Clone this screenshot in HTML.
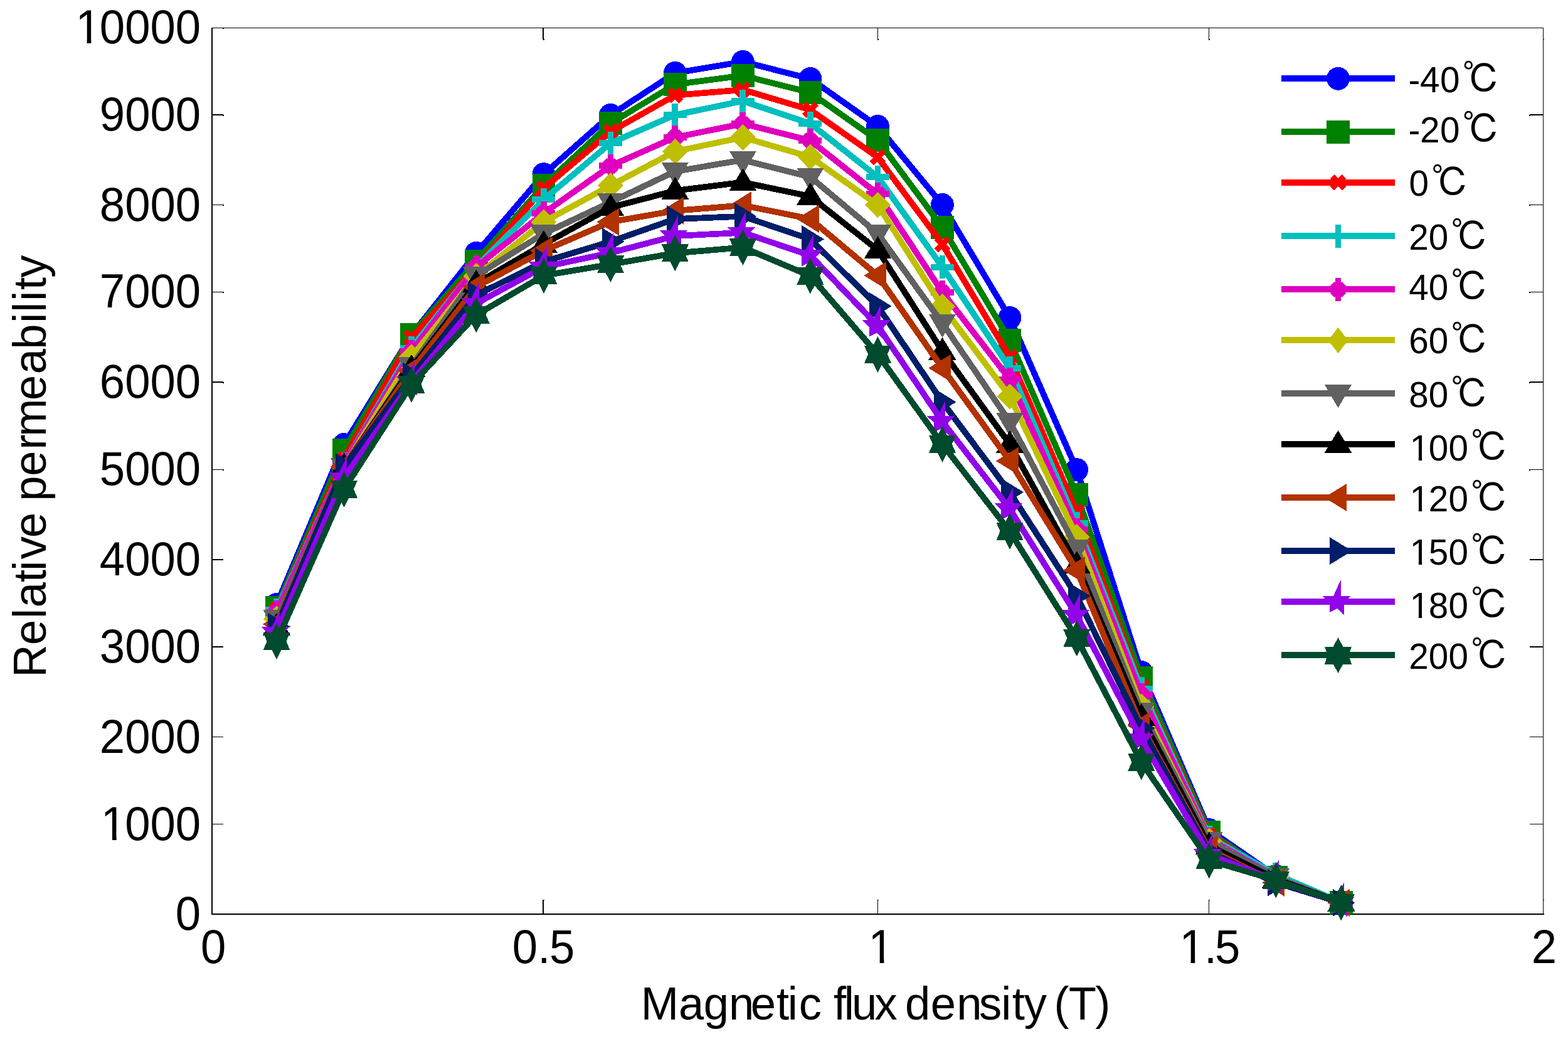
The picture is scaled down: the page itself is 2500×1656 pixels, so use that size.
<!DOCTYPE html>
<html lang="en"><head><meta charset="utf-8"><title>Relative permeability vs magnetic flux density</title>
<style>html,body{margin:0;padding:0;background:#fff}svg{display:block}text{font-family:"Liberation Sans",Arial,Helvetica,sans-serif;fill:#000;white-space:pre}.tk{font-size:72.5px}.lg{font-size:56.6px}.ax{font-size:72.5px}.cj{font-family:"IPAGothic","IPAPGothic","WenQuanYi Zen Hei","Noto Sans CJK JP","Noto Sans CJK SC","Noto Serif CJK SC",sans-serif;font-size:60px}</style></head><body>
<svg xmlns="http://www.w3.org/2000/svg" width="2500" height="1656" viewBox="0 0 2500 1656">
<rect x="0" y="0" width="2500" height="1656" fill="#fff"/>
<g fill="#000" shape-rendering="crispEdges">
<rect x="337" y="44" width="2" height="1414"/>
<rect x="337" y="1456" width="2125" height="2"/>
<rect x="337" y="44" width="2124" height="1"/>
<rect x="2460" y="44" width="1" height="1414"/>
<rect x="339" y="182" width="17" height="2"/><rect x="355" y="183" width="2" height="2"/>
<rect x="2439" y="182" width="21" height="2"/><rect x="2438" y="183" width="2" height="2"/>
<rect x="339" y="326" width="17" height="1"/><rect x="355" y="326" width="2" height="2"/>
<rect x="2439" y="326" width="21" height="1"/><rect x="2438" y="326" width="2" height="2"/>
<rect x="339" y="465" width="17" height="1"/><rect x="355" y="465" width="2" height="2"/>
<rect x="2439" y="465" width="21" height="1"/><rect x="2438" y="465" width="2" height="2"/>
<rect x="339" y="608" width="17" height="2"/><rect x="355" y="609" width="2" height="2"/>
<rect x="2439" y="608" width="21" height="2"/><rect x="2438" y="609" width="2" height="2"/>
<rect x="339" y="748" width="17" height="1"/><rect x="355" y="748" width="2" height="2"/>
<rect x="2439" y="748" width="21" height="1"/><rect x="2438" y="748" width="2" height="2"/>
<rect x="339" y="891" width="17" height="2"/>
<rect x="2439" y="891" width="21" height="2"/>
<rect x="339" y="1030" width="17" height="2"/>
<rect x="2439" y="1030" width="21" height="2"/>
<rect x="339" y="1174" width="17" height="1"/>
<rect x="2439" y="1174" width="21" height="1"/>
<rect x="339" y="1313" width="17" height="1"/>
<rect x="2439" y="1313" width="21" height="1"/>
<rect x="865" y="1434" width="2" height="22"/><rect x="866" y="1434" width="2" height="1"/>
<rect x="865" y="45" width="2" height="18"/><rect x="866" y="62" width="2" height="2"/>
<rect x="1399" y="1434" width="1" height="22"/><rect x="1399" y="1434" width="2" height="1"/>
<rect x="1399" y="45" width="1" height="18"/><rect x="1399" y="62" width="2" height="2"/>
<rect x="1927" y="1434" width="1" height="22"/><rect x="1927" y="1434" width="2" height="1"/>
<rect x="1927" y="45" width="1" height="18"/><rect x="1927" y="62" width="2" height="2"/>
<rect x="355" y="45" width="2" height="1"/><rect x="2461" y="62" width="1" height="1"/><rect x="2461" y="1434" width="1" height="1"/>
</g>
<g>
<text class="tk" transform="translate(0,69.3) scale(1,1.04)" y="0" x="120.53 158.85 199.17 239.49 279.81">10000</text>
<text class="tk" transform="translate(0,208) scale(1,1.04)" y="0" x="158.85 199.17 239.49 279.81">9000</text>
<text class="tk" transform="translate(0,351.5) scale(1,1.04)" y="0" x="158.85 199.17 239.49 279.81">8000</text>
<text class="tk" transform="translate(0,490.3) scale(1,1.04)" y="0" x="158.85 199.17 239.49 279.81">7000</text>
<text class="tk" transform="translate(0,634) scale(1,1.04)" y="0" x="158.85 199.17 239.49 279.81">6000</text>
<text class="tk" transform="translate(0,773.4) scale(1,1.04)" y="0" x="158.85 199.17 239.49 279.81">5000</text>
<text class="tk" transform="translate(0,917) scale(1,1.04)" y="0" x="158.85 199.17 239.49 279.81">4000</text>
<text class="tk" transform="translate(0,1056) scale(1,1.04)" y="0" x="158.85 199.17 239.49 279.81">3000</text>
<text class="tk" transform="translate(0,1199.5) scale(1,1.04)" y="0" x="158.85 199.17 239.49 279.81">2000</text>
<text class="tk" transform="translate(0,1338.5) scale(1,1.04)" y="0" x="160.85 199.17 239.49 279.81">1000</text>
<text class="tk" transform="translate(0,1482.4) scale(1,1.04)" y="0" x="279.81">0</text>
<text class="tk" transform="translate(0,1535.3) scale(1,1.04)" y="0" x="319.9">0</text>
<text class="tk" transform="translate(0,1535.3) scale(1,1.04)" y="0" x="816.8 857.3 876">0.5</text>
<text class="tk" transform="translate(0,1535.3) scale(1,1.04)" y="0" x="1384.6">1</text>
<text class="tk" transform="translate(0,1535.3) scale(1,1.04)" y="0" x="1880.5 1920 1937.1">1.5</text>
<text class="tk" transform="translate(0,1535.3) scale(1,1.04)" y="0" x="2441.64">2</text>
</g>
<text class="ax" transform="translate(0,1624.9) scale(1,1.015)" y="0" x="1021.85 1081.92 1121.76 1162.09 1196.72 1237.9 1255.65 1273.82 1310.07 1328.97 1345.81 1357.89 1394.43 1430.68 1442.96 1483.82 1525.29 1560.98 1596.35 1613.8 1632.82 1669.07 1680.4 1703.87 1746.28">Magnetic flux density (T)</text>
<text class="ax" transform="translate(73,0) rotate(-90) scale(1,1.015)" y="0" x="-1079.75 -1027.98 -985.89 -968.18 -928 -909.85 -891.25 -856.98 -816.66 -798.77 -758.88 -716.81 -695.81 -638.08 -596.28 -556.77 -514.85 -497.69 -479.75 -462 -442.78">Relative permeability</text>
<g shape-rendering="crispEdges">
<g><polyline fill="none" stroke="#0000ff" stroke-width="9.7" stroke-linejoin="round" points="441,963.54 548.5,708.49 656,534.13 759.3,403.43 866.9,277.67 973.5,183.42 1076.4,116.31 1184.4,98.36 1291.9,125.49 1399.5,201.37 1502.5,326.42 1610,506.44 1716.8,748.62 1819.8,1071.35 1927.8,1322.58 2034.3,1396.06 2138.4,1438.31"/>
<circle cx="441" cy="963.54" r="18.45" fill="#0000ff"/>
<circle cx="548.5" cy="708.49" r="18.45" fill="#0000ff"/>
<circle cx="656" cy="534.13" r="18.45" fill="#0000ff"/>
<circle cx="759.3" cy="403.43" r="18.45" fill="#0000ff"/>
<circle cx="866.9" cy="277.67" r="18.45" fill="#0000ff"/>
<circle cx="973.5" cy="183.42" r="18.45" fill="#0000ff"/>
<circle cx="1076.4" cy="116.31" r="18.45" fill="#0000ff"/>
<circle cx="1184.4" cy="98.36" r="18.45" fill="#0000ff"/>
<circle cx="1291.9" cy="125.49" r="18.45" fill="#0000ff"/>
<circle cx="1399.5" cy="201.37" r="18.45" fill="#0000ff"/>
<circle cx="1502.5" cy="326.42" r="18.45" fill="#0000ff"/>
<circle cx="1610" cy="506.44" r="18.45" fill="#0000ff"/>
<circle cx="1716.8" cy="748.62" r="18.45" fill="#0000ff"/>
<circle cx="1819.8" cy="1071.35" r="18.45" fill="#0000ff"/>
<circle cx="1927.8" cy="1322.58" r="18.45" fill="#0000ff"/>
<circle cx="2034.3" cy="1396.06" r="18.45" fill="#0000ff"/>
<circle cx="2138.4" cy="1438.31" r="18.45" fill="#0000ff"/>
</g>
<g><polyline fill="none" stroke="#008000" stroke-width="9.7" stroke-linejoin="round" points="441,968.49 548.5,717.4 656,533.42 759.3,416.29 866.9,295.47 973.5,196.56 1076.4,134.53 1184.4,120.4 1291.9,147.67 1399.5,223.55 1502.5,362.45 1610,542.33 1716.8,788.47 1819.8,1080.54 1927.8,1326.54 2034.3,1398.46 2138.4,1438.73"/>
<rect x="422.6" y="950.09" width="36.8" height="36.8" fill="#008000"/>
<rect x="530.1" y="699" width="36.8" height="36.8" fill="#008000"/>
<rect x="637.6" y="515.02" width="36.8" height="36.8" fill="#008000"/>
<rect x="740.9" y="397.89" width="36.8" height="36.8" fill="#008000"/>
<rect x="848.5" y="277.07" width="36.8" height="36.8" fill="#008000"/>
<rect x="955.1" y="178.16" width="36.8" height="36.8" fill="#008000"/>
<rect x="1058" y="116.13" width="36.8" height="36.8" fill="#008000"/>
<rect x="1166" y="102" width="36.8" height="36.8" fill="#008000"/>
<rect x="1273.5" y="129.27" width="36.8" height="36.8" fill="#008000"/>
<rect x="1381.1" y="205.15" width="36.8" height="36.8" fill="#008000"/>
<rect x="1484.1" y="344.05" width="36.8" height="36.8" fill="#008000"/>
<rect x="1591.6" y="523.93" width="36.8" height="36.8" fill="#008000"/>
<rect x="1698.4" y="770.07" width="36.8" height="36.8" fill="#008000"/>
<rect x="1801.4" y="1062.14" width="36.8" height="36.8" fill="#008000"/>
<rect x="1909.4" y="1308.14" width="36.8" height="36.8" fill="#008000"/>
<rect x="2015.9" y="1380.06" width="36.8" height="36.8" fill="#008000"/>
<rect x="2120" y="1420.33" width="36.8" height="36.8" fill="#008000"/>
</g>
<g><polyline fill="none" stroke="#ff0000" stroke-width="9.7" stroke-linejoin="round" points="441,972.44 548.5,731.24 656,537.95 759.3,425.47 866.9,300.14 973.5,209.85 1076.4,151.91 1184.4,143.01 1291.9,175.09 1399.5,250.68 1502.5,389.44 1610,568.75 1716.8,815.88 1819.8,1093.82 1927.8,1331.06 2034.3,1397.47 2138.4,1438.73"/>
<path transform="translate(441,972.44)" d="M-9.6,-9.6L9.6,9.6M-9.6,9.6L9.6,-9.6" stroke="#ff0000" stroke-width="9.3" fill="none"/>
<path transform="translate(548.5,731.24)" d="M-9.6,-9.6L9.6,9.6M-9.6,9.6L9.6,-9.6" stroke="#ff0000" stroke-width="9.3" fill="none"/>
<path transform="translate(656,537.95)" d="M-9.6,-9.6L9.6,9.6M-9.6,9.6L9.6,-9.6" stroke="#ff0000" stroke-width="9.3" fill="none"/>
<path transform="translate(759.3,425.47)" d="M-9.6,-9.6L9.6,9.6M-9.6,9.6L9.6,-9.6" stroke="#ff0000" stroke-width="9.3" fill="none"/>
<path transform="translate(866.9,300.14)" d="M-9.6,-9.6L9.6,9.6M-9.6,9.6L9.6,-9.6" stroke="#ff0000" stroke-width="9.3" fill="none"/>
<path transform="translate(973.5,209.85)" d="M-9.6,-9.6L9.6,9.6M-9.6,9.6L9.6,-9.6" stroke="#ff0000" stroke-width="9.3" fill="none"/>
<path transform="translate(1076.4,151.91)" d="M-9.6,-9.6L9.6,9.6M-9.6,9.6L9.6,-9.6" stroke="#ff0000" stroke-width="9.3" fill="none"/>
<path transform="translate(1184.4,143.01)" d="M-9.6,-9.6L9.6,9.6M-9.6,9.6L9.6,-9.6" stroke="#ff0000" stroke-width="9.3" fill="none"/>
<path transform="translate(1291.9,175.09)" d="M-9.6,-9.6L9.6,9.6M-9.6,9.6L9.6,-9.6" stroke="#ff0000" stroke-width="9.3" fill="none"/>
<path transform="translate(1399.5,250.68)" d="M-9.6,-9.6L9.6,9.6M-9.6,9.6L9.6,-9.6" stroke="#ff0000" stroke-width="9.3" fill="none"/>
<path transform="translate(1502.5,389.44)" d="M-9.6,-9.6L9.6,9.6M-9.6,9.6L9.6,-9.6" stroke="#ff0000" stroke-width="9.3" fill="none"/>
<path transform="translate(1610,568.75)" d="M-9.6,-9.6L9.6,9.6M-9.6,9.6L9.6,-9.6" stroke="#ff0000" stroke-width="9.3" fill="none"/>
<path transform="translate(1716.8,815.88)" d="M-9.6,-9.6L9.6,9.6M-9.6,9.6L9.6,-9.6" stroke="#ff0000" stroke-width="9.3" fill="none"/>
<path transform="translate(1819.8,1093.82)" d="M-9.6,-9.6L9.6,9.6M-9.6,9.6L9.6,-9.6" stroke="#ff0000" stroke-width="9.3" fill="none"/>
<path transform="translate(1927.8,1331.06)" d="M-9.6,-9.6L9.6,9.6M-9.6,9.6L9.6,-9.6" stroke="#ff0000" stroke-width="9.3" fill="none"/>
<path transform="translate(2034.3,1397.47)" d="M-9.6,-9.6L9.6,9.6M-9.6,9.6L9.6,-9.6" stroke="#ff0000" stroke-width="9.3" fill="none"/>
<path transform="translate(2138.4,1438.73)" d="M-9.6,-9.6L9.6,9.6M-9.6,9.6L9.6,-9.6" stroke="#ff0000" stroke-width="9.3" fill="none"/>
</g>
<g><polyline fill="none" stroke="#00bfbf" stroke-width="9.7" stroke-linejoin="round" points="441,972.02 548.5,739.58 656,554.62 759.3,425.47 866.9,318.08 973.5,228.07 1076.4,183.14 1184.4,161.1 1291.9,196.85 1399.5,282.05 1502.5,425.61 1610,586.84 1716.8,834.25 1819.8,1097.63 1927.8,1334.31 2034.3,1393.66 2138.4,1438.31"/>
<path transform="translate(441,972.02)" d="M0,-18.45L0,18.45M-18.45,0L18.45,0" stroke="#00bfbf" stroke-width="9.9" fill="none"/>
<path transform="translate(548.5,739.58)" d="M0,-18.45L0,18.45M-18.45,0L18.45,0" stroke="#00bfbf" stroke-width="9.9" fill="none"/>
<path transform="translate(656,554.62)" d="M0,-18.45L0,18.45M-18.45,0L18.45,0" stroke="#00bfbf" stroke-width="9.9" fill="none"/>
<path transform="translate(759.3,425.47)" d="M0,-18.45L0,18.45M-18.45,0L18.45,0" stroke="#00bfbf" stroke-width="9.9" fill="none"/>
<path transform="translate(866.9,318.08)" d="M0,-18.45L0,18.45M-18.45,0L18.45,0" stroke="#00bfbf" stroke-width="9.9" fill="none"/>
<path transform="translate(973.5,228.07)" d="M0,-18.45L0,18.45M-18.45,0L18.45,0" stroke="#00bfbf" stroke-width="9.9" fill="none"/>
<path transform="translate(1076.4,183.14)" d="M0,-18.45L0,18.45M-18.45,0L18.45,0" stroke="#00bfbf" stroke-width="9.9" fill="none"/>
<path transform="translate(1184.4,161.1)" d="M0,-18.45L0,18.45M-18.45,0L18.45,0" stroke="#00bfbf" stroke-width="9.9" fill="none"/>
<path transform="translate(1291.9,196.85)" d="M0,-18.45L0,18.45M-18.45,0L18.45,0" stroke="#00bfbf" stroke-width="9.9" fill="none"/>
<path transform="translate(1399.5,282.05)" d="M0,-18.45L0,18.45M-18.45,0L18.45,0" stroke="#00bfbf" stroke-width="9.9" fill="none"/>
<path transform="translate(1502.5,425.61)" d="M0,-18.45L0,18.45M-18.45,0L18.45,0" stroke="#00bfbf" stroke-width="9.9" fill="none"/>
<path transform="translate(1610,586.84)" d="M0,-18.45L0,18.45M-18.45,0L18.45,0" stroke="#00bfbf" stroke-width="9.9" fill="none"/>
<path transform="translate(1716.8,834.25)" d="M0,-18.45L0,18.45M-18.45,0L18.45,0" stroke="#00bfbf" stroke-width="9.9" fill="none"/>
<path transform="translate(1819.8,1097.63)" d="M0,-18.45L0,18.45M-18.45,0L18.45,0" stroke="#00bfbf" stroke-width="9.9" fill="none"/>
<path transform="translate(1927.8,1334.31)" d="M0,-18.45L0,18.45M-18.45,0L18.45,0" stroke="#00bfbf" stroke-width="9.9" fill="none"/>
<path transform="translate(2034.3,1393.66)" d="M0,-18.45L0,18.45M-18.45,0L18.45,0" stroke="#00bfbf" stroke-width="9.9" fill="none"/>
<path transform="translate(2138.4,1438.31)" d="M0,-18.45L0,18.45M-18.45,0L18.45,0" stroke="#00bfbf" stroke-width="9.9" fill="none"/>
</g>
<g><polyline fill="none" stroke="#df00bf" stroke-width="9.7" stroke-linejoin="round" points="441,975.69 548.5,740.43 656,560.41 759.3,425.47 866.9,339.84 973.5,264.39 1076.4,218.89 1184.4,197.27 1291.9,223.84 1399.5,309.18 1502.5,465.6 1610,604.5 1716.8,844.14 1819.8,1107.1 1927.8,1337.14 2034.3,1397.9 2138.4,1438.73"/>
<path transform="translate(441,975.69)" d="M0,-18.45L0,18.45M-18.45,0L18.45,0" stroke="#df00bf" stroke-width="9.9" fill="none"/><path transform="translate(441,975.69)" d="M-9.4,-9.4L9.4,9.4M-9.4,9.4L9.4,-9.4" stroke="#df00bf" stroke-width="9.3" fill="none"/>
<path transform="translate(548.5,740.43)" d="M0,-18.45L0,18.45M-18.45,0L18.45,0" stroke="#df00bf" stroke-width="9.9" fill="none"/><path transform="translate(548.5,740.43)" d="M-9.4,-9.4L9.4,9.4M-9.4,9.4L9.4,-9.4" stroke="#df00bf" stroke-width="9.3" fill="none"/>
<path transform="translate(656,560.41)" d="M0,-18.45L0,18.45M-18.45,0L18.45,0" stroke="#df00bf" stroke-width="9.9" fill="none"/><path transform="translate(656,560.41)" d="M-9.4,-9.4L9.4,9.4M-9.4,9.4L9.4,-9.4" stroke="#df00bf" stroke-width="9.3" fill="none"/>
<path transform="translate(759.3,425.47)" d="M0,-18.45L0,18.45M-18.45,0L18.45,0" stroke="#df00bf" stroke-width="9.9" fill="none"/><path transform="translate(759.3,425.47)" d="M-9.4,-9.4L9.4,9.4M-9.4,9.4L9.4,-9.4" stroke="#df00bf" stroke-width="9.3" fill="none"/>
<path transform="translate(866.9,339.84)" d="M0,-18.45L0,18.45M-18.45,0L18.45,0" stroke="#df00bf" stroke-width="9.9" fill="none"/><path transform="translate(866.9,339.84)" d="M-9.4,-9.4L9.4,9.4M-9.4,9.4L9.4,-9.4" stroke="#df00bf" stroke-width="9.3" fill="none"/>
<path transform="translate(973.5,264.39)" d="M0,-18.45L0,18.45M-18.45,0L18.45,0" stroke="#df00bf" stroke-width="9.9" fill="none"/><path transform="translate(973.5,264.39)" d="M-9.4,-9.4L9.4,9.4M-9.4,9.4L9.4,-9.4" stroke="#df00bf" stroke-width="9.3" fill="none"/>
<path transform="translate(1076.4,218.89)" d="M0,-18.45L0,18.45M-18.45,0L18.45,0" stroke="#df00bf" stroke-width="9.9" fill="none"/><path transform="translate(1076.4,218.89)" d="M-9.4,-9.4L9.4,9.4M-9.4,9.4L9.4,-9.4" stroke="#df00bf" stroke-width="9.3" fill="none"/>
<path transform="translate(1184.4,197.27)" d="M0,-18.45L0,18.45M-18.45,0L18.45,0" stroke="#df00bf" stroke-width="9.9" fill="none"/><path transform="translate(1184.4,197.27)" d="M-9.4,-9.4L9.4,9.4M-9.4,9.4L9.4,-9.4" stroke="#df00bf" stroke-width="9.3" fill="none"/>
<path transform="translate(1291.9,223.84)" d="M0,-18.45L0,18.45M-18.45,0L18.45,0" stroke="#df00bf" stroke-width="9.9" fill="none"/><path transform="translate(1291.9,223.84)" d="M-9.4,-9.4L9.4,9.4M-9.4,9.4L9.4,-9.4" stroke="#df00bf" stroke-width="9.3" fill="none"/>
<path transform="translate(1399.5,309.18)" d="M0,-18.45L0,18.45M-18.45,0L18.45,0" stroke="#df00bf" stroke-width="9.9" fill="none"/><path transform="translate(1399.5,309.18)" d="M-9.4,-9.4L9.4,9.4M-9.4,9.4L9.4,-9.4" stroke="#df00bf" stroke-width="9.3" fill="none"/>
<path transform="translate(1502.5,465.6)" d="M0,-18.45L0,18.45M-18.45,0L18.45,0" stroke="#df00bf" stroke-width="9.9" fill="none"/><path transform="translate(1502.5,465.6)" d="M-9.4,-9.4L9.4,9.4M-9.4,9.4L9.4,-9.4" stroke="#df00bf" stroke-width="9.3" fill="none"/>
<path transform="translate(1610,604.5)" d="M0,-18.45L0,18.45M-18.45,0L18.45,0" stroke="#df00bf" stroke-width="9.9" fill="none"/><path transform="translate(1610,604.5)" d="M-9.4,-9.4L9.4,9.4M-9.4,9.4L9.4,-9.4" stroke="#df00bf" stroke-width="9.3" fill="none"/>
<path transform="translate(1716.8,844.14)" d="M0,-18.45L0,18.45M-18.45,0L18.45,0" stroke="#df00bf" stroke-width="9.9" fill="none"/><path transform="translate(1716.8,844.14)" d="M-9.4,-9.4L9.4,9.4M-9.4,9.4L9.4,-9.4" stroke="#df00bf" stroke-width="9.3" fill="none"/>
<path transform="translate(1819.8,1107.1)" d="M0,-18.45L0,18.45M-18.45,0L18.45,0" stroke="#df00bf" stroke-width="9.9" fill="none"/><path transform="translate(1819.8,1107.1)" d="M-9.4,-9.4L9.4,9.4M-9.4,9.4L9.4,-9.4" stroke="#df00bf" stroke-width="9.3" fill="none"/>
<path transform="translate(1927.8,1337.14)" d="M0,-18.45L0,18.45M-18.45,0L18.45,0" stroke="#df00bf" stroke-width="9.9" fill="none"/><path transform="translate(1927.8,1337.14)" d="M-9.4,-9.4L9.4,9.4M-9.4,9.4L9.4,-9.4" stroke="#df00bf" stroke-width="9.3" fill="none"/>
<path transform="translate(2034.3,1397.9)" d="M0,-18.45L0,18.45M-18.45,0L18.45,0" stroke="#df00bf" stroke-width="9.9" fill="none"/><path transform="translate(2034.3,1397.9)" d="M-9.4,-9.4L9.4,9.4M-9.4,9.4L9.4,-9.4" stroke="#df00bf" stroke-width="9.3" fill="none"/>
<path transform="translate(2138.4,1438.73)" d="M0,-18.45L0,18.45M-18.45,0L18.45,0" stroke="#df00bf" stroke-width="9.9" fill="none"/><path transform="translate(2138.4,1438.73)" d="M-9.4,-9.4L9.4,9.4M-9.4,9.4L9.4,-9.4" stroke="#df00bf" stroke-width="9.3" fill="none"/>
</g>
<g><polyline fill="none" stroke="#bfbf00" stroke-width="9.7" stroke-linejoin="round" points="441,986.43 548.5,744.1 656,569.46 759.3,439.74 866.9,353.83 973.5,295.62 1076.4,241.36 1184.4,218.89 1291.9,250.12 1399.5,326.7 1502.5,488.49 1610,631.63 1716.8,855.59 1819.8,1126.04 1927.8,1340.25 2034.3,1398.75 2138.4,1438.73"/>
<polygon transform="translate(441,986.43)" points="0,-20.6 20.6,0.1 0,20.8 -20.6,0.1" fill="#bfbf00"/>
<polygon transform="translate(548.5,744.1)" points="0,-20.6 20.6,0.1 0,20.8 -20.6,0.1" fill="#bfbf00"/>
<polygon transform="translate(656,569.46)" points="0,-20.6 20.6,0.1 0,20.8 -20.6,0.1" fill="#bfbf00"/>
<polygon transform="translate(759.3,439.74)" points="0,-20.6 20.6,0.1 0,20.8 -20.6,0.1" fill="#bfbf00"/>
<polygon transform="translate(866.9,353.83)" points="0,-20.6 20.6,0.1 0,20.8 -20.6,0.1" fill="#bfbf00"/>
<polygon transform="translate(973.5,295.62)" points="0,-20.6 20.6,0.1 0,20.8 -20.6,0.1" fill="#bfbf00"/>
<polygon transform="translate(1076.4,241.36)" points="0,-20.6 20.6,0.1 0,20.8 -20.6,0.1" fill="#bfbf00"/>
<polygon transform="translate(1184.4,218.89)" points="0,-20.6 20.6,0.1 0,20.8 -20.6,0.1" fill="#bfbf00"/>
<polygon transform="translate(1291.9,250.12)" points="0,-20.6 20.6,0.1 0,20.8 -20.6,0.1" fill="#bfbf00"/>
<polygon transform="translate(1399.5,326.7)" points="0,-20.6 20.6,0.1 0,20.8 -20.6,0.1" fill="#bfbf00"/>
<polygon transform="translate(1502.5,488.49)" points="0,-20.6 20.6,0.1 0,20.8 -20.6,0.1" fill="#bfbf00"/>
<polygon transform="translate(1610,631.63)" points="0,-20.6 20.6,0.1 0,20.8 -20.6,0.1" fill="#bfbf00"/>
<polygon transform="translate(1716.8,855.59)" points="0,-20.6 20.6,0.1 0,20.8 -20.6,0.1" fill="#bfbf00"/>
<polygon transform="translate(1819.8,1126.04)" points="0,-20.6 20.6,0.1 0,20.8 -20.6,0.1" fill="#bfbf00"/>
<polygon transform="translate(1927.8,1340.25)" points="0,-20.6 20.6,0.1 0,20.8 -20.6,0.1" fill="#bfbf00"/>
<polygon transform="translate(2034.3,1398.75)" points="0,-20.6 20.6,0.1 0,20.8 -20.6,0.1" fill="#bfbf00"/>
<polygon transform="translate(2138.4,1438.73)" points="0,-20.6 20.6,0.1 0,20.8 -20.6,0.1" fill="#bfbf00"/>
</g>
<g><polyline fill="none" stroke="#616161" stroke-width="9.7" stroke-linejoin="round" points="441,986.15 548.5,744.1 656,583.59 759.3,439.32 866.9,372.34 973.5,322.18 1076.4,273.15 1184.4,255.06 1291.9,281.91 1399.5,372.34 1502.5,515.05 1610,672.32 1716.8,874.1 1819.8,1134.37 1927.8,1340.53 2034.3,1398.46 2138.4,1438.73"/>
<polygon transform="translate(441,986.15)" points="-21.5,-14.1 21.5,-14.1 0,23.1" fill="#616161"/>
<polygon transform="translate(548.5,744.1)" points="-21.5,-14.1 21.5,-14.1 0,23.1" fill="#616161"/>
<polygon transform="translate(656,583.59)" points="-21.5,-14.1 21.5,-14.1 0,23.1" fill="#616161"/>
<polygon transform="translate(759.3,439.32)" points="-21.5,-14.1 21.5,-14.1 0,23.1" fill="#616161"/>
<polygon transform="translate(866.9,372.34)" points="-21.5,-14.1 21.5,-14.1 0,23.1" fill="#616161"/>
<polygon transform="translate(973.5,322.18)" points="-21.5,-14.1 21.5,-14.1 0,23.1" fill="#616161"/>
<polygon transform="translate(1076.4,273.15)" points="-21.5,-14.1 21.5,-14.1 0,23.1" fill="#616161"/>
<polygon transform="translate(1184.4,255.06)" points="-21.5,-14.1 21.5,-14.1 0,23.1" fill="#616161"/>
<polygon transform="translate(1291.9,281.91)" points="-21.5,-14.1 21.5,-14.1 0,23.1" fill="#616161"/>
<polygon transform="translate(1399.5,372.34)" points="-21.5,-14.1 21.5,-14.1 0,23.1" fill="#616161"/>
<polygon transform="translate(1502.5,515.05)" points="-21.5,-14.1 21.5,-14.1 0,23.1" fill="#616161"/>
<polygon transform="translate(1610,672.32)" points="-21.5,-14.1 21.5,-14.1 0,23.1" fill="#616161"/>
<polygon transform="translate(1716.8,874.1)" points="-21.5,-14.1 21.5,-14.1 0,23.1" fill="#616161"/>
<polygon transform="translate(1819.8,1134.37)" points="-21.5,-14.1 21.5,-14.1 0,23.1" fill="#616161"/>
<polygon transform="translate(1927.8,1340.53)" points="-21.5,-14.1 21.5,-14.1 0,23.1" fill="#616161"/>
<polygon transform="translate(2034.3,1398.46)" points="-21.5,-14.1 21.5,-14.1 0,23.1" fill="#616161"/>
<polygon transform="translate(2138.4,1438.73)" points="-21.5,-14.1 21.5,-14.1 0,23.1" fill="#616161"/>
</g>
<g><polyline fill="none" stroke="#000000" stroke-width="9.7" stroke-linejoin="round" points="441,999.01 548.5,743.54 656,586.98 759.3,451.89 866.9,389.3 973.5,330.66 1076.4,303.95 1184.4,290.53 1291.9,313 1399.5,398.48 1502.5,559.71 1610,708.07 1716.8,900.38 1819.8,1142.99 1927.8,1348.02 2034.3,1401.01 2138.4,1438.73"/>
<polygon transform="translate(441,999.01)" points="0,-22.1 22,13.8 -22,13.8" fill="#000000"/>
<polygon transform="translate(548.5,743.54)" points="0,-22.1 22,13.8 -22,13.8" fill="#000000"/>
<polygon transform="translate(656,586.98)" points="0,-22.1 22,13.8 -22,13.8" fill="#000000"/>
<polygon transform="translate(759.3,451.89)" points="0,-22.1 22,13.8 -22,13.8" fill="#000000"/>
<polygon transform="translate(866.9,389.3)" points="0,-22.1 22,13.8 -22,13.8" fill="#000000"/>
<polygon transform="translate(973.5,330.66)" points="0,-22.1 22,13.8 -22,13.8" fill="#000000"/>
<polygon transform="translate(1076.4,303.95)" points="0,-22.1 22,13.8 -22,13.8" fill="#000000"/>
<polygon transform="translate(1184.4,290.53)" points="0,-22.1 22,13.8 -22,13.8" fill="#000000"/>
<polygon transform="translate(1291.9,313)" points="0,-22.1 22,13.8 -22,13.8" fill="#000000"/>
<polygon transform="translate(1399.5,398.48)" points="0,-22.1 22,13.8 -22,13.8" fill="#000000"/>
<polygon transform="translate(1502.5,559.71)" points="0,-22.1 22,13.8 -22,13.8" fill="#000000"/>
<polygon transform="translate(1610,708.07)" points="0,-22.1 22,13.8 -22,13.8" fill="#000000"/>
<polygon transform="translate(1716.8,900.38)" points="0,-22.1 22,13.8 -22,13.8" fill="#000000"/>
<polygon transform="translate(1819.8,1142.99)" points="0,-22.1 22,13.8 -22,13.8" fill="#000000"/>
<polygon transform="translate(1927.8,1348.02)" points="0,-22.1 22,13.8 -22,13.8" fill="#000000"/>
<polygon transform="translate(2034.3,1401.01)" points="0,-22.1 22,13.8 -22,13.8" fill="#000000"/>
<polygon transform="translate(2138.4,1438.73)" points="0,-22.1 22,13.8 -22,13.8" fill="#000000"/>
</g>
<g><polyline fill="none" stroke="#b23200" stroke-width="9.7" stroke-linejoin="round" points="441,994.77 548.5,743.82 656,590.79 759.3,457.12 866.9,399.61 973.5,353.69 1076.4,335.89 1184.4,327.27 1291.9,348.89 1399.5,439.18 1502.5,586.69 1610,734.78 1716.8,908.86 1819.8,1156.84 1927.8,1353.81 2034.3,1406.8 2138.4,1438.87"/>
<polygon transform="translate(441,994.77)" points="-22.1,0 13.6,-22 13.6,22" fill="#b23200"/>
<polygon transform="translate(548.5,743.82)" points="-22.1,0 13.6,-22 13.6,22" fill="#b23200"/>
<polygon transform="translate(656,590.79)" points="-22.1,0 13.6,-22 13.6,22" fill="#b23200"/>
<polygon transform="translate(759.3,457.12)" points="-22.1,0 13.6,-22 13.6,22" fill="#b23200"/>
<polygon transform="translate(866.9,399.61)" points="-22.1,0 13.6,-22 13.6,22" fill="#b23200"/>
<polygon transform="translate(973.5,353.69)" points="-22.1,0 13.6,-22 13.6,22" fill="#b23200"/>
<polygon transform="translate(1076.4,335.89)" points="-22.1,0 13.6,-22 13.6,22" fill="#b23200"/>
<polygon transform="translate(1184.4,327.27)" points="-22.1,0 13.6,-22 13.6,22" fill="#b23200"/>
<polygon transform="translate(1291.9,348.89)" points="-22.1,0 13.6,-22 13.6,22" fill="#b23200"/>
<polygon transform="translate(1399.5,439.18)" points="-22.1,0 13.6,-22 13.6,22" fill="#b23200"/>
<polygon transform="translate(1502.5,586.69)" points="-22.1,0 13.6,-22 13.6,22" fill="#b23200"/>
<polygon transform="translate(1610,734.78)" points="-22.1,0 13.6,-22 13.6,22" fill="#b23200"/>
<polygon transform="translate(1716.8,908.86)" points="-22.1,0 13.6,-22 13.6,22" fill="#b23200"/>
<polygon transform="translate(1819.8,1156.84)" points="-22.1,0 13.6,-22 13.6,22" fill="#b23200"/>
<polygon transform="translate(1927.8,1353.81)" points="-22.1,0 13.6,-22 13.6,22" fill="#b23200"/>
<polygon transform="translate(2034.3,1406.8)" points="-22.1,0 13.6,-22 13.6,22" fill="#b23200"/>
<polygon transform="translate(2138.4,1438.87)" points="-22.1,0 13.6,-22 13.6,22" fill="#b23200"/>
</g>
<g><polyline fill="none" stroke="#001e69" stroke-width="9.7" stroke-linejoin="round" points="441,998.87 548.5,743.96 656,599.84 759.3,470.4 866.9,417.13 973.5,385.06 1076.4,349.03 1184.4,344.79 1291.9,381.24 1399.5,487.93 1502.5,640.67 1610,784.51 1716.8,949.84 1819.8,1160.65 1927.8,1357.91 2034.3,1406.8 2138.4,1438.87"/>
<polygon transform="translate(441,998.87)" points="22.1,0 -13.6,-22 -13.6,22" fill="#001e69"/>
<polygon transform="translate(548.5,743.96)" points="22.1,0 -13.6,-22 -13.6,22" fill="#001e69"/>
<polygon transform="translate(656,599.84)" points="22.1,0 -13.6,-22 -13.6,22" fill="#001e69"/>
<polygon transform="translate(759.3,470.4)" points="22.1,0 -13.6,-22 -13.6,22" fill="#001e69"/>
<polygon transform="translate(866.9,417.13)" points="22.1,0 -13.6,-22 -13.6,22" fill="#001e69"/>
<polygon transform="translate(973.5,385.06)" points="22.1,0 -13.6,-22 -13.6,22" fill="#001e69"/>
<polygon transform="translate(1076.4,349.03)" points="22.1,0 -13.6,-22 -13.6,22" fill="#001e69"/>
<polygon transform="translate(1184.4,344.79)" points="22.1,0 -13.6,-22 -13.6,22" fill="#001e69"/>
<polygon transform="translate(1291.9,381.24)" points="22.1,0 -13.6,-22 -13.6,22" fill="#001e69"/>
<polygon transform="translate(1399.5,487.93)" points="22.1,0 -13.6,-22 -13.6,22" fill="#001e69"/>
<polygon transform="translate(1502.5,640.67)" points="22.1,0 -13.6,-22 -13.6,22" fill="#001e69"/>
<polygon transform="translate(1610,784.51)" points="22.1,0 -13.6,-22 -13.6,22" fill="#001e69"/>
<polygon transform="translate(1716.8,949.84)" points="22.1,0 -13.6,-22 -13.6,22" fill="#001e69"/>
<polygon transform="translate(1819.8,1160.65)" points="22.1,0 -13.6,-22 -13.6,22" fill="#001e69"/>
<polygon transform="translate(1927.8,1357.91)" points="22.1,0 -13.6,-22 -13.6,22" fill="#001e69"/>
<polygon transform="translate(2034.3,1406.8)" points="22.1,0 -13.6,-22 -13.6,22" fill="#001e69"/>
<polygon transform="translate(2138.4,1438.87)" points="22.1,0 -13.6,-22 -13.6,22" fill="#001e69"/>
</g>
<g><polyline fill="none" stroke="#9105e8" stroke-width="9.7" stroke-linejoin="round" points="441,1007.77 548.5,761.34 656,608.88 759.3,483.69 866.9,425.47 973.5,403 1076.4,376.02 1184.4,370.79 1291.9,407.1 1399.5,519.29 1502.5,671.9 1610,811.22 1716.8,980.78 1819.8,1178.18 1927.8,1362.29 2034.3,1403.27 2138.4,1439.16"/>
<polygon transform="translate(441,1007.77)" points="4.93,-34.2 4.93,-8.83 20.36,-8.83 9.44,1.9 9.13,21.5 -1.28,11.07 -13.52,16.99 -13.52,1.9 -24.54,-8.83 -7.6,-8.83" fill="#9105e8"/>
<polygon transform="translate(548.5,761.34)" points="4.93,-34.2 4.93,-8.83 20.36,-8.83 9.44,1.9 9.13,21.5 -1.28,11.07 -13.52,16.99 -13.52,1.9 -24.54,-8.83 -7.6,-8.83" fill="#9105e8"/>
<polygon transform="translate(656,608.88)" points="4.93,-34.2 4.93,-8.83 20.36,-8.83 9.44,1.9 9.13,21.5 -1.28,11.07 -13.52,16.99 -13.52,1.9 -24.54,-8.83 -7.6,-8.83" fill="#9105e8"/>
<polygon transform="translate(759.3,483.69)" points="4.93,-34.2 4.93,-8.83 20.36,-8.83 9.44,1.9 9.13,21.5 -1.28,11.07 -13.52,16.99 -13.52,1.9 -24.54,-8.83 -7.6,-8.83" fill="#9105e8"/>
<polygon transform="translate(866.9,425.47)" points="4.93,-34.2 4.93,-8.83 20.36,-8.83 9.44,1.9 9.13,21.5 -1.28,11.07 -13.52,16.99 -13.52,1.9 -24.54,-8.83 -7.6,-8.83" fill="#9105e8"/>
<polygon transform="translate(973.5,403)" points="4.93,-34.2 4.93,-8.83 20.36,-8.83 9.44,1.9 9.13,21.5 -1.28,11.07 -13.52,16.99 -13.52,1.9 -24.54,-8.83 -7.6,-8.83" fill="#9105e8"/>
<polygon transform="translate(1076.4,376.02)" points="4.93,-34.2 4.93,-8.83 20.36,-8.83 9.44,1.9 9.13,21.5 -1.28,11.07 -13.52,16.99 -13.52,1.9 -24.54,-8.83 -7.6,-8.83" fill="#9105e8"/>
<polygon transform="translate(1184.4,370.79)" points="4.93,-34.2 4.93,-8.83 20.36,-8.83 9.44,1.9 9.13,21.5 -1.28,11.07 -13.52,16.99 -13.52,1.9 -24.54,-8.83 -7.6,-8.83" fill="#9105e8"/>
<polygon transform="translate(1291.9,407.1)" points="4.93,-34.2 4.93,-8.83 20.36,-8.83 9.44,1.9 9.13,21.5 -1.28,11.07 -13.52,16.99 -13.52,1.9 -24.54,-8.83 -7.6,-8.83" fill="#9105e8"/>
<polygon transform="translate(1399.5,519.29)" points="4.93,-34.2 4.93,-8.83 20.36,-8.83 9.44,1.9 9.13,21.5 -1.28,11.07 -13.52,16.99 -13.52,1.9 -24.54,-8.83 -7.6,-8.83" fill="#9105e8"/>
<polygon transform="translate(1502.5,671.9)" points="4.93,-34.2 4.93,-8.83 20.36,-8.83 9.44,1.9 9.13,21.5 -1.28,11.07 -13.52,16.99 -13.52,1.9 -24.54,-8.83 -7.6,-8.83" fill="#9105e8"/>
<polygon transform="translate(1610,811.22)" points="4.93,-34.2 4.93,-8.83 20.36,-8.83 9.44,1.9 9.13,21.5 -1.28,11.07 -13.52,16.99 -13.52,1.9 -24.54,-8.83 -7.6,-8.83" fill="#9105e8"/>
<polygon transform="translate(1716.8,980.78)" points="4.93,-34.2 4.93,-8.83 20.36,-8.83 9.44,1.9 9.13,21.5 -1.28,11.07 -13.52,16.99 -13.52,1.9 -24.54,-8.83 -7.6,-8.83" fill="#9105e8"/>
<polygon transform="translate(1819.8,1178.18)" points="4.93,-34.2 4.93,-8.83 20.36,-8.83 9.44,1.9 9.13,21.5 -1.28,11.07 -13.52,16.99 -13.52,1.9 -24.54,-8.83 -7.6,-8.83" fill="#9105e8"/>
<polygon transform="translate(1927.8,1362.29)" points="4.93,-34.2 4.93,-8.83 20.36,-8.83 9.44,1.9 9.13,21.5 -1.28,11.07 -13.52,16.99 -13.52,1.9 -24.54,-8.83 -7.6,-8.83" fill="#9105e8"/>
<polygon transform="translate(2034.3,1403.27)" points="4.93,-34.2 4.93,-8.83 20.36,-8.83 9.44,1.9 9.13,21.5 -1.28,11.07 -13.52,16.99 -13.52,1.9 -24.54,-8.83 -7.6,-8.83" fill="#9105e8"/>
<polygon transform="translate(2138.4,1439.16)" points="4.93,-34.2 4.93,-8.83 20.36,-8.83 9.44,1.9 9.13,21.5 -1.28,11.07 -13.52,16.99 -13.52,1.9 -24.54,-8.83 -7.6,-8.83" fill="#9105e8"/>
</g>
<g><polyline fill="none" stroke="#004b2d" stroke-width="9.7" stroke-linejoin="round" points="441,1022.18 548.5,779.71 656,612.83 759.3,501.91 866.9,439.04 973.5,421.37 1076.4,403.43 1184.4,394.38 1291.9,439.74 1399.5,564.79 1502.5,707.93 1610,846.97 1716.8,1017.24 1819.8,1214.77 1927.8,1371.33 2034.3,1402.84 2138.4,1438.73"/>
<polygon transform="translate(441,1022.18)" points="0,-28.8 7.6,-14 21.5,-14 15.4,0 21.5,14 7.6,14 0,28.8 -7.6,14 -21.5,14 -15.4,0 -21.5,-14 -7.6,-14" fill="#004b2d"/>
<polygon transform="translate(548.5,779.71)" points="0,-28.8 7.6,-14 21.5,-14 15.4,0 21.5,14 7.6,14 0,28.8 -7.6,14 -21.5,14 -15.4,0 -21.5,-14 -7.6,-14" fill="#004b2d"/>
<polygon transform="translate(656,612.83)" points="0,-28.8 7.6,-14 21.5,-14 15.4,0 21.5,14 7.6,14 0,28.8 -7.6,14 -21.5,14 -15.4,0 -21.5,-14 -7.6,-14" fill="#004b2d"/>
<polygon transform="translate(759.3,501.91)" points="0,-28.8 7.6,-14 21.5,-14 15.4,0 21.5,14 7.6,14 0,28.8 -7.6,14 -21.5,14 -15.4,0 -21.5,-14 -7.6,-14" fill="#004b2d"/>
<polygon transform="translate(866.9,439.04)" points="0,-28.8 7.6,-14 21.5,-14 15.4,0 21.5,14 7.6,14 0,28.8 -7.6,14 -21.5,14 -15.4,0 -21.5,-14 -7.6,-14" fill="#004b2d"/>
<polygon transform="translate(973.5,421.37)" points="0,-28.8 7.6,-14 21.5,-14 15.4,0 21.5,14 7.6,14 0,28.8 -7.6,14 -21.5,14 -15.4,0 -21.5,-14 -7.6,-14" fill="#004b2d"/>
<polygon transform="translate(1076.4,403.43)" points="0,-28.8 7.6,-14 21.5,-14 15.4,0 21.5,14 7.6,14 0,28.8 -7.6,14 -21.5,14 -15.4,0 -21.5,-14 -7.6,-14" fill="#004b2d"/>
<polygon transform="translate(1184.4,394.38)" points="0,-28.8 7.6,-14 21.5,-14 15.4,0 21.5,14 7.6,14 0,28.8 -7.6,14 -21.5,14 -15.4,0 -21.5,-14 -7.6,-14" fill="#004b2d"/>
<polygon transform="translate(1291.9,439.74)" points="0,-28.8 7.6,-14 21.5,-14 15.4,0 21.5,14 7.6,14 0,28.8 -7.6,14 -21.5,14 -15.4,0 -21.5,-14 -7.6,-14" fill="#004b2d"/>
<polygon transform="translate(1399.5,564.79)" points="0,-28.8 7.6,-14 21.5,-14 15.4,0 21.5,14 7.6,14 0,28.8 -7.6,14 -21.5,14 -15.4,0 -21.5,-14 -7.6,-14" fill="#004b2d"/>
<polygon transform="translate(1502.5,707.93)" points="0,-28.8 7.6,-14 21.5,-14 15.4,0 21.5,14 7.6,14 0,28.8 -7.6,14 -21.5,14 -15.4,0 -21.5,-14 -7.6,-14" fill="#004b2d"/>
<polygon transform="translate(1610,846.97)" points="0,-28.8 7.6,-14 21.5,-14 15.4,0 21.5,14 7.6,14 0,28.8 -7.6,14 -21.5,14 -15.4,0 -21.5,-14 -7.6,-14" fill="#004b2d"/>
<polygon transform="translate(1716.8,1017.24)" points="0,-28.8 7.6,-14 21.5,-14 15.4,0 21.5,14 7.6,14 0,28.8 -7.6,14 -21.5,14 -15.4,0 -21.5,-14 -7.6,-14" fill="#004b2d"/>
<polygon transform="translate(1819.8,1214.77)" points="0,-28.8 7.6,-14 21.5,-14 15.4,0 21.5,14 7.6,14 0,28.8 -7.6,14 -21.5,14 -15.4,0 -21.5,-14 -7.6,-14" fill="#004b2d"/>
<polygon transform="translate(1927.8,1371.33)" points="0,-28.8 7.6,-14 21.5,-14 15.4,0 21.5,14 7.6,14 0,28.8 -7.6,14 -21.5,14 -15.4,0 -21.5,-14 -7.6,-14" fill="#004b2d"/>
<polygon transform="translate(2034.3,1402.84)" points="0,-28.8 7.6,-14 21.5,-14 15.4,0 21.5,14 7.6,14 0,28.8 -7.6,14 -21.5,14 -15.4,0 -21.5,-14 -7.6,-14" fill="#004b2d"/>
<polygon transform="translate(2138.4,1438.73)" points="0,-28.8 7.6,-14 21.5,-14 15.4,0 21.5,14 7.6,14 0,28.8 -7.6,14 -21.5,14 -15.4,0 -21.5,-14 -7.6,-14" fill="#004b2d"/>
</g>
<rect x="2043" y="120.05" width="181" height="9.7" fill="#0000ff"/>
<circle cx="2133.5" cy="125.3" r="18.45" fill="#0000ff"/>
<rect x="2043" y="205.05" width="181" height="9.7" fill="#008000"/>
<rect x="2115.1" y="192" width="36.8" height="36.8" fill="#008000"/>
<rect x="2043" y="286.15" width="181" height="9.7" fill="#ff0000"/>
<path transform="translate(2133.5,290.8)" d="M-9.6,-9.6L9.6,9.6M-9.6,9.6L9.6,-9.6" stroke="#ff0000" stroke-width="9.3" fill="none"/>
<rect x="2043" y="371.15" width="181" height="9.7" fill="#00bfbf"/>
<path transform="translate(2133.5,376.4)" d="M0,-18.45L0,18.45M-18.45,0L18.45,0" stroke="#00bfbf" stroke-width="9.1" fill="none"/>
<rect x="2043" y="456.15" width="181" height="9.7" fill="#df00bf"/>
<path transform="translate(2133.5,461.5)" d="M0,-18.45L0,18.45M-18.45,0L18.45,0" stroke="#df00bf" stroke-width="9.1" fill="none"/><path transform="translate(2133.5,461.5)" d="M-9.4,-9.4L9.4,9.4M-9.4,9.4L9.4,-9.4" stroke="#df00bf" stroke-width="9.3" fill="none"/>
<rect x="2043" y="537.15" width="181" height="9.7" fill="#bfbf00"/>
<polygon transform="translate(2133.5,542.45)" points="0,-20.6 15.8,0.1 0,20.8 -15.8,0.1" fill="#bfbf00"/>
<rect x="2043" y="622.25" width="181" height="9.7" fill="#616161"/>
<polygon transform="translate(2133.5,627.1)" points="-21.5,-14.1 21.5,-14.1 0,23.1" fill="#616161"/>
<rect x="2043" y="703.25" width="181" height="9.7" fill="#000000"/>
<polygon transform="translate(2133.5,708.1)" points="0,-22.1 22,13.8 -22,13.8" fill="#000000"/>
<rect x="2043" y="788.05" width="181" height="9.7" fill="#b23200"/>
<polygon transform="translate(2133.5,792.9)" points="-22.1,0 13.6,-22 13.6,22" fill="#b23200"/>
<rect x="2043" y="873.25" width="181" height="9.7" fill="#001e69"/>
<polygon transform="translate(2133.5,878.1)" points="22.1,0 -13.6,-22 -13.6,22" fill="#001e69"/>
<rect x="2043" y="954.05" width="181" height="9.7" fill="#9105e8"/>
<polygon transform="translate(2133.5,958.9)" points="4.03,-34.2 4.03,-8.83 20.36,-8.83 9.44,1.9 9.13,21.5 -1.28,11.07 -13.52,16.99 -13.52,1.9 -24.54,-8.83 -7.6,-8.83" fill="#9105e8"/>
<rect x="2043" y="1039.05" width="181" height="9.7" fill="#004b2d"/>
<polygon transform="translate(2133.5,1044.5)" points="0,-28.8 7.6,-14 21.5,-14 17.1,0 21.5,14 7.6,14 0,28.8 -7.6,14 -21.5,14 -17.1,0 -21.5,-14 -7.6,-14" fill="#004b2d"/>
</g>
<g>
<text class="lg" transform="translate(0,146.7) scale(1,1.03)" y="0" x="2245.4 2263.9 2295.9">-40<tspan class="cj" x="2331.4" dy="1.4">℃</tspan></text>
<text class="lg" transform="translate(0,226.6) scale(1,1.03)" y="0" x="2245.4 2263.9 2295.9">-20<tspan class="cj" x="2331.4" dy="1.4">℃</tspan></text>
<text class="lg" transform="translate(0,311.6) scale(1,1.03)" y="0" x="2246.6">0<tspan class="cj" x="2282.1" dy="1.4">℃</tspan></text>
<text class="lg" transform="translate(0,397.7) scale(1,1.03)" y="0" x="2246.3 2277.7">20<tspan class="cj" x="2313.2" dy="1.4">℃</tspan></text>
<text class="lg" transform="translate(0,477.7) scale(1,1.03)" y="0" x="2246.3 2277.7">40<tspan class="cj" x="2313.2" dy="1.4">℃</tspan></text>
<text class="lg" transform="translate(0,562.7) scale(1,1.03)" y="0" x="2246.3 2277.7">60<tspan class="cj" x="2313.2" dy="1.4">℃</tspan></text>
<text class="lg" transform="translate(0,648.6) scale(1,1.03)" y="0" x="2246.3 2277.7">80<tspan class="cj" x="2313.2" dy="1.4">℃</tspan></text>
<text class="lg" transform="translate(0,733.8) scale(1,1.03)" y="0" x="2247.76 2277.7 2309.6">100<tspan class="cj" x="2345.1" dy="1.4">℃</tspan></text>
<text class="lg" transform="translate(0,814.7) scale(1,1.03)" y="0" x="2247.76 2277.7 2309.6">120<tspan class="cj" x="2345.1" dy="1.4">℃</tspan></text>
<text class="lg" transform="translate(0,899.7) scale(1,1.03)" y="0" x="2247.76 2277.7 2309.6">150<tspan class="cj" x="2345.1" dy="1.4">℃</tspan></text>
<text class="lg" transform="translate(0,984.7) scale(1,1.03)" y="0" x="2247.76 2277.7 2309.6">180<tspan class="cj" x="2345.1" dy="1.4">℃</tspan></text>
<text class="lg" transform="translate(0,1065.6) scale(1,1.03)" y="0" x="2246.2 2277.7 2309.6">200<tspan class="cj" x="2345.1" dy="1.4">℃</tspan></text>
</g>
<g fill="#fff"><rect x="124.84" y="62.97" width="13.77" height="7.53"/><rect x="145.32" y="62.97" width="13.2" height="7.53"/><rect x="165.16" y="1332.17" width="13.77" height="7.53"/><rect x="185.64" y="1332.17" width="13.2" height="7.53"/><rect x="1388.91" y="1528.97" width="13.77" height="7.53"/><rect x="1409.39" y="1528.97" width="13.2" height="7.53"/><rect x="1884.81" y="1528.97" width="13.77" height="7.53"/><rect x="1905.29" y="1528.97" width="13.2" height="7.53"/><rect x="2250.91" y="728.74" width="10.94" height="6.26"/><rect x="2267.15" y="728.74" width="10.5" height="6.26"/><rect x="2250.91" y="809.64" width="10.94" height="6.26"/><rect x="2267.15" y="809.64" width="10.5" height="6.26"/><rect x="2250.91" y="894.64" width="10.94" height="6.26"/><rect x="2267.15" y="894.64" width="10.5" height="6.26"/><rect x="2250.91" y="979.64" width="10.94" height="6.26"/><rect x="2267.15" y="979.64" width="10.5" height="6.26"/></g>
</svg></body></html>
